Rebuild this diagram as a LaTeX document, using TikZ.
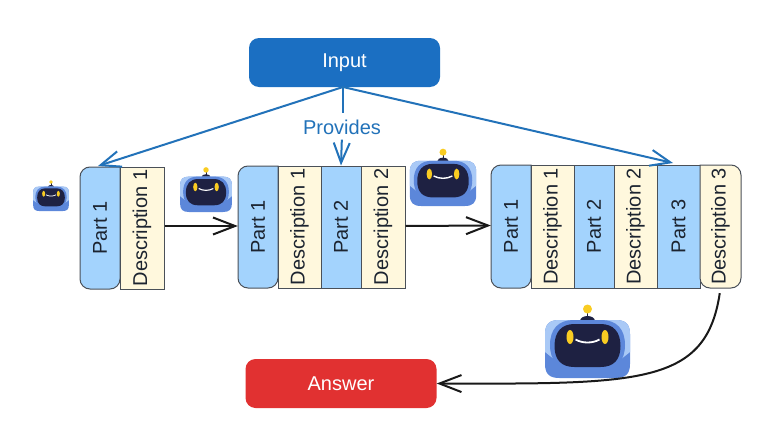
\documentclass[tikz,border=0pt]{standalone}
\usepackage{fontspec}
\setmainfont{Liberation Sans}
\usetikzlibrary{arrows.meta}
\definecolor{inputblue}{HTML}{1B6FC2}
\definecolor{linkblue}{HTML}{2272B9}
\definecolor{answerred}{HTML}{E13131}
\definecolor{partblue}{HTML}{A3D3FD}
\definecolor{desccream}{HTML}{FFF8DD}
\definecolor{cellline}{HTML}{4A5058}
\definecolor{celltextc}{HTML}{1C2430}
\definecolor{botlight}{HTML}{A9C9F6}
\definecolor{botmid}{HTML}{5C87DA}
\definecolor{botdark}{HTML}{1E2142}
\definecolor{botyellow}{HTML}{F9CC22}
\tikzset{
  topbox/.style={rounded corners=10pt,minimum width=191pt,minimum height=49pt,inner sep=0pt,text=white,font=\fontsize{20}{24}\selectfont},
  cellbase/.style={inner sep=0pt,text=celltextc,font=\fontsize{20}{24}\selectfont},
  partcell/.style={cellbase,draw=cellline,fill=partblue,line width=1pt},
  desccell/.style={cellbase,draw=cellline,fill=desccream,line width=1pt},
  cellshape/.style={draw=cellline,line width=1pt},
  bluelink/.style={draw=linkblue,line width=2pt,-{Straight Barb[length=20pt,width=16pt,line width=2pt]}},
  bluestem/.style={draw=linkblue,line width=2pt},
  blacklink/.style={draw=black!90,line width=2pt,-{Straight Barb[length=22pt,width=17pt,line width=2pt]}},
}
\newcommand{\rtxt}[1]{\rotatebox{90}{#1}}
\newcommand{\robotbot}[3]{%
  \begin{scope}[shift={(#1,#2)},scale=#3]
    \fill[botdark] (-7.5,-57) arc[start angle=180,end angle=360,x radius=7.5,y radius=5] -- cycle;
    \draw[botdark,line width=#3*1pt] (0,-60) -- (0,-67);
    \fill[botyellow] (0,-69) circle[radius=4.5];
    \fill[botmid] (-42.5,-44) .. controls (-42.5,-54) and (-38,-58) .. (-28,-58) -- (28,-58) .. controls (38,-58) and (42.5,-54) .. (42.5,-44) -- (42.5,-14) .. controls (42.5,-4) and (38,0) .. (28,0) -- (-28,0) .. controls (-38,0) and (-42.5,-4) .. (-42.5,-14) -- cycle;
    \fill[botlight] (-42.5,-26) -- (-42.5,-44) .. controls (-42.5,-54) and (-38,-58) .. (-28,-58) -- (28,-58) .. controls (38,-58) and (42.5,-54) .. (42.5,-44) -- (42.5,-26) -- (30,-16) -- (-30,-16) -- cycle;
    \fill[botmid] (-37.5,-33) .. controls (-37.5,-49) and (-29,-58) .. (-14,-58) -- (14,-58) .. controls (29,-58) and (37.5,-49) .. (37.5,-33) .. controls (37.5,-17) and (29,-8) .. (14,-8) -- (-14,-8) .. controls (-29,-8) and (-37.5,-17) .. (-37.5,-33) -- cycle;
    \fill[botdark] (-33,-32) .. controls (-33,-46) and (-26,-54) .. (-13,-54) -- (13,-54) .. controls (26,-54) and (33,-46) .. (33,-32) .. controls (33,-18) and (26,-11) .. (13,-11) -- (-13,-11) .. controls (-26,-11) and (-33,-18) .. (-33,-32) -- cycle;
    \fill[botyellow] (-17.5,-41) ellipse[x radius=3.5,y radius=7];
    \fill[botyellow] (17.5,-41) ellipse[x radius=3.5,y radius=7];
    \draw[white,line width=#3*1.8pt] (-12,-38.5) .. controls (-5,-34.5) and (5,-34.5) .. (12,-38.5);
  \end{scope}}
\begin{document}
\begin{tikzpicture}[x=1pt,y=-1pt]
\useasboundingbox (0,0) rectangle (779,439);
% robots
\robotbot{51}{211}{0.42}
\robotbot{206}{212}{0.61}
\robotbot{443}{206}{0.78}
\robotbot{587.5}{378}{1}
% top and bottom boxes
\node[topbox,fill=inputblue] (input) at (344.5,62.5) {Input};
\node[topbox,fill=answerred] (answer) at (341,383.5) {Answer};
% row 1
\draw[cellshape,fill=partblue,rounded corners=10pt] (120,167) -- (80,167) -- (80,289) -- (120,289) [sharp corners] -- cycle;
\node[cellbase,minimum width=40pt,minimum height=122pt] (a1) at (100,228) {\rtxt{Part 1}};
\node[desccell,minimum width=44pt,minimum height=122pt] (a2) at (142,228) {\rtxt{Description 1}};
% row 2
\draw[cellshape,fill=partblue,rounded corners=10pt] (278,166) -- (238,166) -- (238,288) -- (278,288) [sharp corners] -- cycle;
\node[cellbase,minimum width=40pt,minimum height=122pt] (b1) at (258,227) {\rtxt{Part 1}};
\node[desccell,minimum width=43pt,minimum height=122pt] (b2) at (299.5,227) {\rtxt{Description 1}};
\node[partcell,minimum width=40pt,minimum height=122pt] (b3) at (341,227) {\rtxt{Part 2}};
\node[desccell,minimum width=44pt,minimum height=122pt] (b4) at (383,227) {\rtxt{Description 2}};
% row 3
\draw[cellshape,fill=partblue,rounded corners=10pt] (531,165) -- (491,165) -- (491,288) -- (531,288) [sharp corners] -- cycle;
\node[cellbase,minimum width=40pt,minimum height=123pt] (c1) at (511,226.5) {\rtxt{Part 1}};
\node[desccell,minimum width=43pt,minimum height=123pt] (c2) at (552.5,226.5) {\rtxt{Description 1}};
\node[partcell,minimum width=40pt,minimum height=123pt] (c3) at (594,226.5) {\rtxt{Part 2}};
\node[desccell,minimum width=43pt,minimum height=123pt] (c4) at (635.5,226.5) {\rtxt{Description 2}};
\node[partcell,minimum width=43pt,minimum height=123pt] (c5) at (678.5,226.5) {\rtxt{Part 3}};
\draw[cellshape,fill=desccream,rounded corners=10pt] (700,165) -- (741,165) -- (741,288) -- (700,288) [sharp corners] -- cycle;
\node[cellbase,minimum width=41pt,minimum height=123pt] (c6) at (720.5,226.5) {\rtxt{Description 3}};
% connector ends
\coordinate (hit1) at (98,166);
\coordinate (hit3) at (673,163);
\coordinate (fork) at (343,87);
% blue links
\node[text=linkblue,font=\fontsize{20}{24}\selectfont,inner sep=0pt] (provides) at (342,127) {Provides};
\draw[bluelink] (fork) -- (hit1);
\draw[bluelink] (fork) -- (hit3);
\draw[bluestem,shorten >=6pt] (fork) -- (provides.north -| fork);
\draw[bluelink,shorten <=5pt] (provides.south) -- (b3.north);
% black links
\draw[blacklink] ([yshift=2pt]a2.east) -- ([yshift=1pt]b1.west);
\draw[blacklink] ([yshift=1pt]b4.east) -- ([yshift=1pt]c1.west);
\draw[blacklink,shorten <=5pt] (c6.south) .. controls (706,385) and (640,384) .. (answer.east);
\end{tikzpicture}
\end{document}
